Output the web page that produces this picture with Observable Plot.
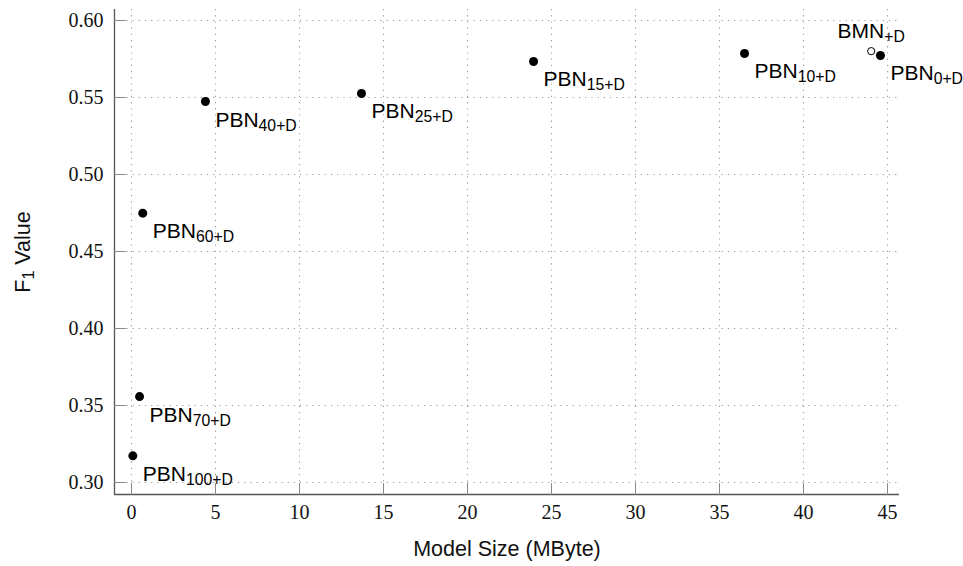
<!DOCTYPE html>
<html>
<head>
<meta charset="utf-8">
<script src="https://cdn.jsdelivr.net/npm/d3@7"></script>
<script src="https://cdn.jsdelivr.net/npm/@observablehq/plot@0.6"></script>
<style>
  html, body { margin: 0; padding: 0; background: white; }
</style>
</head>
<body>
<div id="chart"></div>
<script>
// ---- data ----
const pbnNames = ["PBN_{100+D}", "PBN_{70+D}", "PBN_{60+D}", "PBN_{40+D}", "PBN_{25+D}", "PBN_{15+D}", "PBN_{10+D}", "PBN_{0+D}"];
const pbnSize  = [0.08, 0.48, 0.67, 4.40, 13.69, 23.93, 36.49, 44.58];
const pbnF1    = [0.3173, 0.3558, 0.4749, 0.5474, 0.5526, 0.5734, 0.5786, 0.5773];

const bmnNames = ["BMN_{+D}"];
const bmnSize  = [44.03];
const bmnF1    = [0.5801];

const xTicks = [0, 5, 10, 15, 20, 25, 30, 35, 40, 45];
const yTicks = [0.30, 0.35, 0.40, 0.45, 0.50, 0.55, 0.60];

const xLabel = "Model Size (MByte)";
const yLabel = "F_{1} Value";

// ---- tables ----
const pbn = pbnNames.map((n, i) => ({name: n, size: pbnSize[i], f1: pbnF1[i]}));
const bmn = bmnNames.map((n, i) => ({name: n, size: bmnSize[i], f1: bmnF1[i]}));

const xDomain = [-1.012, 45.714];
const yDomain = [0.29221, 0.60714];

const tickShape = {draw(context, l) { context.moveTo(0, 0); context.lineTo(0, -l); }};
const serif = "Liberation Serif, DejaVu Serif, serif";
const sans = "Liberation Sans, Arial, Helvetica, sans-serif";

const chart = Plot.plot({
  width: 963,
  height: 566,
  marginLeft: 114,
  marginRight: 64,
  marginTop: 9,
  marginBottom: 72,
  style: {fontFamily: sans, fontSize: "20px", background: "white", color: "#000"},
  x: {domain: xDomain},
  y: {domain: yDomain},
  marks: [
    // dotted grid
    Plot.gridX(xTicks, {stroke: "#999", strokeOpacity: 1, strokeWidth: 1.1, strokeDasharray: "1.2,5"}),
    Plot.gridY(yTicks, {stroke: "#999", strokeOpacity: 1, strokeWidth: 1.1, strokeDasharray: "1.2,5"}),
    // axis lines
    Plot.ruleX([xDomain[0]], {stroke: "#555", strokeWidth: 1.3}),
    Plot.ruleY([yDomain[0]], {stroke: "#555", strokeWidth: 1.3}),
    // inward ticks
    Plot.vector(xTicks, {x: d => d, frameAnchor: "bottom", length: 11, rotate: 0, anchor: "start", shape: tickShape, stroke: "#888", strokeWidth: 1}),
    Plot.vector(yTicks, {y: d => d, frameAnchor: "left", length: 11, rotate: 90, anchor: "start", shape: tickShape, stroke: "#888", strokeWidth: 1}),
    // tick labels
    Plot.axisX({ticks: xTicks, tickSize: 0, tickPadding: 10, label: null, tickFormat: d => String(d), fontFamily: serif, fontSize: 20, fill: "#111"}),
    Plot.axisY({ticks: yTicks, tickSize: 0, tickPadding: 11, label: null, tickFormat: d3.format(".2f"), fontFamily: serif, fontSize: 20, fill: "#111"}),
    // axis titles
    Plot.text([xLabel], {frameAnchor: "bottom", dy: 61, lineAnchor: "bottom", textAnchor: "middle", fontSize: 21.5, fill: "#111"}),
    Plot.text([yLabel], {frameAnchor: "left", dx: -85, rotate: -90, lineAnchor: "bottom", textAnchor: "middle", fontSize: 21.5, fill: "#111"}),
    // points
    Plot.dot(pbn, {x: "size", y: "f1", r: 4.5, fill: "black", stroke: "none"}),
    Plot.dot(bmn, {x: "size", y: "f1", r: 3.6, fill: "white", stroke: "black", strokeWidth: 1}),
    // labels
    Plot.text(pbn, {x: "size", y: "f1", text: "name", dx: 10, dy: 25, lineAnchor: "bottom", textAnchor: "start", fontSize: 21, fill: "#000"}),
    Plot.text(bmn, {x: "size", y: "f1", text: "name", dx: 0, dy: -13, lineAnchor: "bottom", textAnchor: "middle", fontSize: 21, fill: "#000"})
  ]
});

// subscript rendering: "main_{sub}rest"
const NS = "http://www.w3.org/2000/svg";
chart.querySelectorAll("text").forEach(t => {
  const s = t.textContent;
  const m = s.match(/^(.*?)_\{(.*?)\}(.*)$/);
  if (!m || t.querySelector("tspan")) return;
  t.textContent = "";
  const a = document.createElementNS(NS, "tspan");
  a.textContent = m[1];
  const b = document.createElementNS(NS, "tspan");
  b.textContent = m[2];
  b.setAttribute("font-size", "0.75em");
  b.setAttribute("dy", "4");
  t.appendChild(a);
  t.appendChild(b);
  if (m[3]) {
    const c = document.createElementNS(NS, "tspan");
    c.textContent = m[3];
    c.setAttribute("dy", "-4");
    t.appendChild(c);
  }
});

document.getElementById("chart").appendChild(chart);
</script>
</body>
</html>
